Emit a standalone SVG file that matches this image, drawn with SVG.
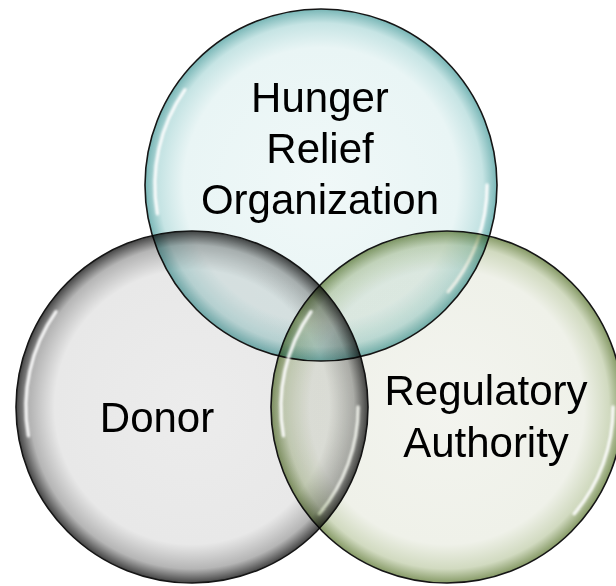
<svg xmlns="http://www.w3.org/2000/svg" width="616" height="586" viewBox="0 0 616 586">
<style>
.bub{stroke:#151515;stroke-width:1.6;mix-blend-mode:multiply}
.hl{fill:none;stroke:#ffffff;stroke-width:3.5;stroke-linecap:round;opacity:0.9;filter:url(#blur)}
.lbl{font-family:"Liberation Sans",Arial,sans-serif;font-size:42px;fill:#000;text-anchor:middle}
</style>
<defs>
<filter id="blur" x="-20%" y="-20%" width="140%" height="140%"><feGaussianBlur stdDeviation="1.2"/></filter>
<radialGradient id="gTop" cx="0.5" cy="0.5" r="0.5">
<stop offset="0" stop-color="#f0f8f8"/>
<stop offset="0.78" stop-color="#e9f5f5"/>
<stop offset="0.92" stop-color="#c6e4e4"/>
<stop offset="1" stop-color="#78b6b6"/>
</radialGradient>
<radialGradient id="gLeft" cx="0.5" cy="0.5" r="0.5">
<stop offset="0" stop-color="#ececec"/>
<stop offset="0.78" stop-color="#e8e8e8"/>
<stop offset="0.92" stop-color="#b5b5b5"/>
<stop offset="1" stop-color="#444444"/>
</radialGradient>
<radialGradient id="gRight" cx="0.5" cy="0.5" r="0.5">
<stop offset="0" stop-color="#f3f4ef"/>
<stop offset="0.78" stop-color="#eff1e9"/>
<stop offset="0.92" stop-color="#d1dac0"/>
<stop offset="1" stop-color="#869a66"/>
</radialGradient>
<g id="shine">
<path class="hl" d="M -163.5 28.8 A 166 166 0 0 1 -136 -95.2"/>
<path class="hl" d="M 166 0 A 166 166 0 0 1 127.2 106.7"/>
</g>
</defs>
<rect width="616" height="586" fill="#ffffff"/>
<g id="connectors"/>
<g id="node-hunger-relief">
<circle class="bub" cx="321" cy="185" r="176" fill="url(#gTop)"/>
<use href="#shine" transform="translate(321 185)"/>
</g>
<g id="node-donor">
<circle class="bub" cx="192" cy="407" r="176" fill="url(#gLeft)"/>
<use href="#shine" transform="translate(192 407)"/>
</g>
<g id="node-regulatory">
<circle class="bub" cx="447" cy="407" r="176" fill="url(#gRight)"/>
<use href="#shine" transform="translate(447 407)"/>
</g>
<g id="labels">
<text class="lbl" x="320" y="112">Hunger</text>
<text class="lbl" x="320" y="163">Relief</text>
<text class="lbl" x="320" y="214">Organization</text>
<text class="lbl" x="157" y="432">Donor</text>
<text class="lbl" x="486" y="405">Regulatory</text>
<text class="lbl" x="486" y="457">Authority</text>
</g>
</svg>
